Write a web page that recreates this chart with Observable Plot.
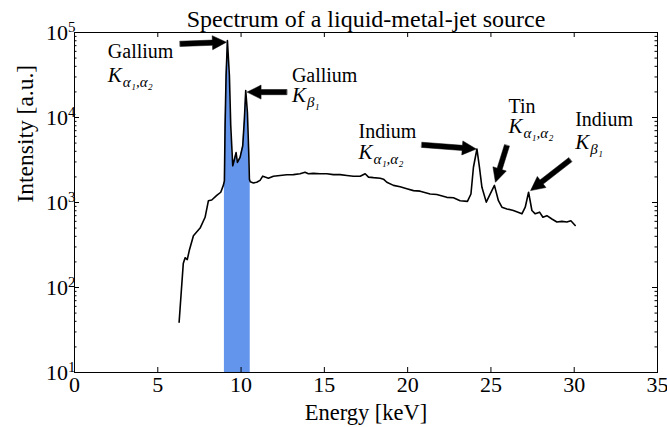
<!DOCTYPE html>
<html>
<head>
<meta charset="utf-8">
<script src="https://cdn.jsdelivr.net/npm/d3@7"></script>
<script src="https://cdn.jsdelivr.net/npm/@observablehq/plot@0.6"></script>
<style>
  html, body { margin: 0; padding: 0; background: white; }
  #chart svg, #chart svg text { font-family: "Liberation Serif", "DejaVu Serif", serif !important; }
</style>
</head>
<body>
<div id="chart"></div>
<script>
// ---- data ----
const energy = [6.28, 6.40, 6.53, 6.64, 6.77, 6.89, 7.14, 7.54, 7.84, 8.04, 8.24, 8.54, 8.78, 8.94,
  9.00, 9.04, 9.10, 9.18, 9.30, 9.38, 9.50, 9.58, 9.70, 9.78, 9.94, 10.10, 10.20, 10.28, 10.38, 10.46,
  10.50, 10.55, 10.74, 10.94, 11.14, 11.30, 11.44, 11.64, 11.94, 12.34, 12.74, 13.14, 13.54, 13.84,
  14.04, 14.34, 14.74, 15.15, 15.54, 15.95, 16.35, 16.74, 17.15, 17.45, 17.65, 17.95, 18.35, 18.55,
  18.75, 19.15, 19.55, 19.95, 20.35, 20.75, 21.35, 21.75, 22.35, 22.75, 23.15, 23.59, 23.80, 23.95,
  24.16, 24.31, 24.46, 24.72, 24.96, 25.21, 25.45, 25.66, 25.96, 26.35, 26.86, 27.06, 27.26, 27.46,
  27.66, 27.92, 28.12, 28.36, 28.66, 28.96, 29.26, 29.56, 29.80, 30.06];
const intensity = [39, 84, 191, 224, 213, 272, 407, 500, 670, 1050, 1070, 1210, 1320, 1600,
  1800, 8000, 31000, 80500, 31000, 8000, 2700, 3100, 3860, 2960, 3400, 4650, 9600, 20800, 11500, 3860,
  1880, 1750, 1700, 1730, 1820, 2040, 1990, 1930, 2040, 2080, 2120, 2130, 2180, 2270,
  2180, 2200, 2180, 2180, 2130, 2130, 2080, 2040, 2040, 2180, 1990, 1960, 1930, 1880,
  1730, 1590, 1530, 1450, 1380, 1360, 1260, 1240, 1150, 1135, 1050, 1030, 1260, 2600,
  4260, 2600, 1510, 1010, 1260, 1590, 1050, 880, 840, 805, 736, 880, 1320, 805,
  736, 770, 670, 700, 640, 590, 600, 590, 610, 537];
const bandRange = [9.0, 10.55];           // shaded Ga K-line window (keV)
const xTicks = [0, 5, 10, 15, 20, 25, 30, 35];
const yMajor = [10, 100, 1000, 10000, 100000];
const yMinor = [];
for (let p = 1; p <= 4; p++) for (let m = 2; m <= 9; m++) yMinor.push(m * 10 ** p);

// annotation labels: element name, subscript, text position (keV, intensity)
const labelNames = ["Gallium", "Gallium", "Indium", "Tin", "Indium"];
const labelSubs  = ["α₁,α₂", "β₁", "α₁,α₂", "α₁,α₂", "β₁"];
const labelX     = [2.0, 13.05, 17.05, 26.05, 30.06];
const labelYName = [56600, 29500, 6490, 12800, 8850];
const labelYK    = [33400, 19100, 4090, 8280, 5360];
// arrows: from (x1,y1) to tip (x2,y2)
const arrowX1 = [6.34, 12.74, 20.85, 25.96, 29.76];
const arrowY1 = [73600, 19900, 4770, 4680, 3180];
const arrowX2 = [9.12, 10.36, 24.12, 25.27, 27.38];
const arrowY2 = [76900, 19900, 4260, 1730, 1380];

// ---- build tables ----
const spectrum = energy.map((e, i) => ({e, v: intensity[i]}));
const band = spectrum.filter(d => d.e >= bandRange[0] && d.e <= bandRange[1]);
const labels = labelNames.map((n, i) => ({name: n, sub: labelSubs[i], x: labelX[i], yn: labelYName[i], yk: labelYK[i]}));

const W = 667, H = 427, mL = 74, mR = 10, mT = 32, mB = 55;
const innerW = W - mL - mR, innerH = H - mT - mB;
const xDomain = [0, 35], yDomain = [10, 100000];

// filled arrow polygons, shaped in screen space through Plot's own scales
const sx = Plot.scale({x: {domain: xDomain, range: [mL, W - mR]}});
const sy = Plot.scale({y: {type: "log", domain: yDomain, range: [H - mB, mT]}});
const arrowPts = [];
arrowX1.forEach((x1, i) => {
  const ax = sx.apply(x1), ay = sy.apply(arrowY1[i]);
  const bx = sx.apply(arrowX2[i]), by = sy.apply(arrowY2[i]);
  const len = Math.hypot(bx - ax, by - ay), ux = (bx - ax) / len, uy = (by - ay) / len;
  const nx = -uy, ny = ux, hl = 14, hw = 7, sw = 2.6;
  const nxk = bx - ux * hl, nyk = by - uy * hl;
  const pts = [
    [ax + nx * sw, ay + ny * sw], [nxk + nx * sw, nyk + ny * sw], [nxk + nx * hw, nyk + ny * hw],
    [bx, by],
    [nxk - nx * hw, nyk - ny * hw], [nxk - nx * sw, nyk - ny * sw], [ax - nx * sw, ay - ny * sw]
  ];
  pts.forEach(([px, py]) => arrowPts.push({id: i, x: sx.invert(px), y: sy.invert(py)}));
});

const fmtPow = d => "10^" + Math.round(Math.log10(d));
const serif = "Liberation Serif, DejaVu Serif, serif";

const chart = Plot.plot({
  width: W, height: H,
  marginLeft: mL, marginRight: mR, marginTop: mT, marginBottom: mB,
  style: {fontFamily: serif, fontSize: "22px", background: "white", color: "black"},
  x: {domain: xDomain},
  y: {type: "log", domain: yDomain},
  marks: [
    Plot.areaY(band, {x: "e", y1: 10, y2: "v", fill: "#6495ED", curve: "linear"}),
    Plot.line(spectrum, {x: "e", y: "v", stroke: "black", strokeWidth: 1.6}),
    Plot.frame({stroke: "black", strokeWidth: 1}),
    // inward ticks
    Plot.tickX(xTicks, {x: d => d, insetTop: innerH - 5, stroke: "black"}),
    Plot.tickX(xTicks, {x: d => d, insetBottom: innerH - 5, stroke: "black"}),
    Plot.tickY(yMajor, {y: d => d, insetRight: innerW - 5, stroke: "black"}),
    Plot.tickY(yMajor, {y: d => d, insetLeft: innerW - 5, stroke: "black"}),
    Plot.tickY(yMinor, {y: d => d, insetRight: innerW - 2.5, stroke: "black"}),
    Plot.tickY(yMinor, {y: d => d, insetLeft: innerW - 2.5, stroke: "black"}),
    Plot.axisX(xTicks, {tickSize: 0, tickPadding: 4, fontSize: 22, label: null}),
    Plot.axisY(yMajor, {tickSize: 0, tickPadding: -1, fontSize: 22, tickFormat: fmtPow, label: null}),
    // arrows
    Plot.line(arrowPts, {x: "x", y: "y", z: "id", fill: "black", stroke: "black", strokeWidth: 0.5, curve: "linear-closed"}),
    // annotation texts
    Plot.text(labels, {x: "x", y: "yn", text: "name", textAnchor: "start", fontSize: 20, dy: -2}),
    Plot.text(labels, {x: "x", y: "yk", text: d => "K_" + d.sub, textAnchor: "start", fontSize: 21, fontStyle: "italic", dy: 2}),
    // titles
    Plot.text(["Spectrum of a liquid-metal-jet source"], {frameAnchor: "top", lineAnchor: "middle", dy: -13, fontSize: 24}),
    Plot.text(["Energy [keV]"], {frameAnchor: "bottom", lineAnchor: "middle", dy: 40, fontSize: 22.5}),
    Plot.text(["Intensity [a.u.]"], {frameAnchor: "left", lineAnchor: "middle", dx: -49, rotate: -90, fontSize: 23.5})
  ]
});

// typeset "10^k" tick labels and "K_sub" annotation labels with tspans
d3.select(chart).selectAll("text").each(function () {
  const t = this.textContent;
  const sel = d3.select(this);
  let m = /^10\^(\d+)$/.exec(t);
  if (m) {
    sel.text(null);
    sel.append("tspan").text("10");
    sel.append("tspan").attr("dy", "-8").attr("font-size", "15px").text(m[1]);
    return;
  }
  m = /^K_(.+)$/.exec(t);
  if (m) {
    sel.text(null);
    sel.append("tspan").text("K");
    sel.append("tspan").attr("dx", "1").attr("dy", "5").attr("font-size", "15px").text(m[1]);
  }
});
document.getElementById("chart").appendChild(chart);
</script>
</body>
</html>
